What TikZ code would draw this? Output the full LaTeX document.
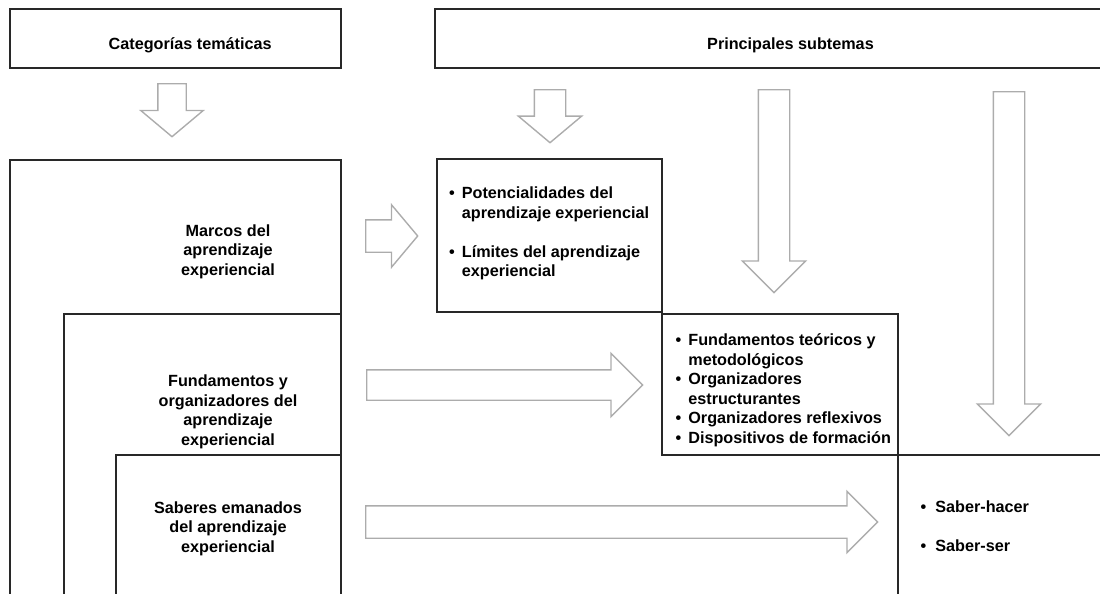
\documentclass[tikz,border=0pt]{standalone}
\usepackage{fontspec}
\setmainfont{Liberation Sans}
\usetikzlibrary{shapes.arrows}

\definecolor{linegray}{RGB}{40,40,40}
\definecolor{arrowgray}{RGB}{172,172,172}

\begin{document}
\begin{tikzpicture}[
  x=1pt, y=-1pt,
  font=\fontsize{16.2}{19.5}\selectfont\bfseries,
  framebox/.style={draw=linegray, line width=1.2pt, inner sep=0pt},
  heading/.style={align=center, inner sep=0pt},
  items/.style={inner sep=0pt, anchor=north west},
  blockarrow/.style={single arrow, draw=arrowgray, line width=1.4pt,
    single arrow head indent=0pt, anchor=tail},
  shortarrow/.style={blockarrow, single arrow tip angle=100},
  longarrow/.style={blockarrow, single arrow tip angle=90},
  pointright/.style={inner xsep=0pt, inner ysep=#1},
  pointdown/.style={shape border rotate=270, inner ysep=0pt, inner xsep=#1}
]
\useasboundingbox (0,0) rectangle (1100,594);
\clip (0,0) rectangle (1100,594);

% header boxes
\node[framebox, minimum width=331, minimum height=59] (cat) at (175.5,38.5) {};
\node[framebox, minimum width=666, minimum height=59] (sub) at (768,38.5) {};
\node[anchor=base west, inner sep=0pt] (cattext) at (108.5,50) {Categorías temáticas};
\node[anchor=base west, inner sep=0pt] (subtext) at (707,50) {Principales subtemas};

% nested category frames, running off the bottom
\node[framebox, minimum width=331, minimum height=470] (marcos) at (175.5,395) {};
\node[framebox, minimum width=277, minimum height=316] (fund) at (202.5,472) {};
\node[framebox, minimum width=225, minimum height=175] (saber) at (228.5,542.5) {};
\node[heading] (marcostext) at (228,251.5) {Marcos del\\aprendizaje\\experiencial};
\node[heading] (fundtext) at (228,412) {Fundamentos y\\organizadores del\\aprendizaje\\experiencial};
\node[heading] (sabertext) at (228,528.5) {Saberes emanados\\del aprendizaje\\experiencial};

% subtheme frames
\node[framebox, minimum width=225, minimum height=153] (pot) at (549.5,235.5) {};
\node[framebox, minimum width=236, minimum height=141] (teo) at (780,384.5) {};
\node[framebox, minimum width=240, minimum height=175] (hacer) at (1018,542.5) {};

\node[items] (potlist) at (449,185) {\begin{tabular}{@{}l@{\hspace{7pt}}l@{}}
  \textbullet & Potencialidades del\\
  & aprendizaje experiencial\\
  & \\
  \textbullet & Límites del aprendizaje\\
  & experiencial
\end{tabular}};
\node[items] (teolist) at (675.5,332) {\begin{tabular}{@{}l@{\hspace{7pt}}l@{}}
  \textbullet & Fundamentos teóricos y\\
  & metodológicos\\
  \textbullet & Organizadores\\
  & estructurantes\\
  \textbullet & Organizadores reflexivos\\
  \textbullet & Dispositivos de formación
\end{tabular}};
\node[items] (hacerlist) at (920.5,499) {\begin{tabular}{@{}l@{\hspace{9pt}}l@{}}
  \textbullet & Saber-hacer\\
  & \\
  \textbullet & Saber-ser
\end{tabular}};

% block arrows
\node[shortarrow, pointdown=13.5, minimum height=53, single arrow head extend=17] (catarrow) at (172,83) {};
\node[shortarrow, pointdown=15, minimum height=53, single arrow head extend=16] (potarrow) at (550,89) {};
\node[longarrow, pointdown=15, minimum height=203, single arrow head extend=16] (teoarrow) at (774,89) {};
\node[longarrow, pointdown=15, minimum height=344, single arrow head extend=16] (hacerarrow) at (1009,91) {};
\node[shortarrow, pointright=15.5, minimum height=52, single arrow head extend=15] (marcosarrow) at (365,236) {};
\node[longarrow, pointright=14.5, minimum height=276, single arrow head extend=16.5] (fundarrow) at (366,385) {};
\node[longarrow, pointright=15.5, minimum height=512, single arrow head extend=14.5] (saberarrow) at (365,522) {};
\end{tikzpicture}
\end{document}
